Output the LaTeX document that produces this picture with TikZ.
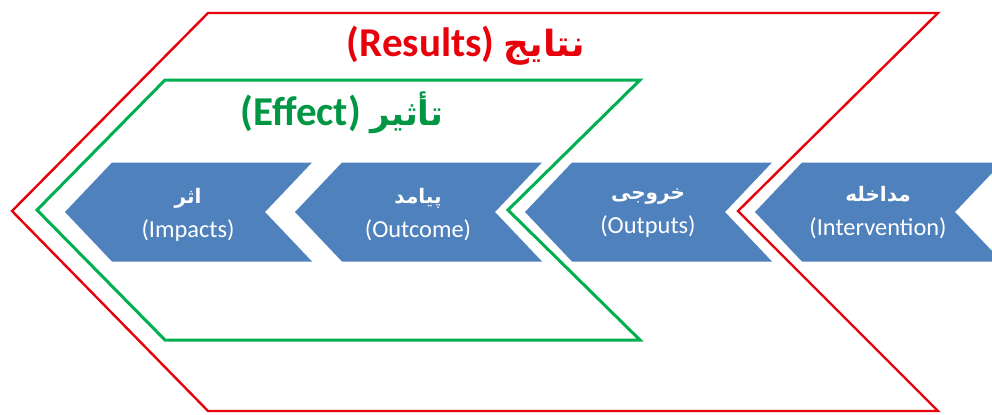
\documentclass[tikz,border=0pt]{standalone}
\usepackage{fontspec}
\setmainfont{Carlito}
\newfontfamily\fa[Script=Arabic]{DejaVu Sans}
\TeXXeTstate=1
\usetikzlibrary{positioning}
\definecolor{chevblue}{HTML}{4F81BD}
\definecolor{resred}{HTML}{E8000B}
\definecolor{effgreen}{HTML}{00B050}

\begin{document}
\begin{tikzpicture}[x=0.5pt,y=-0.5pt,
  chev/.style={fill=chevblue},
  frame/.style={line width=#1,line join=miter,preaction={draw=white,line width=3.6pt}},
  lbl/.style={text=white,align=center,font=\fontsize{12.2}{17}\selectfont},
  ttl/.style={font=\fontsize{20.5}{24}\selectfont\bfseries}]
\useasboundingbox (0,0) rectangle (992,414);
\clip (0,0) rectangle (992,414);
\fill[white] (0,0) rectangle (992,414);
% chevrons
\fill[chev] (65,212) -- ++(47,-49.5) -- ++(200,0) -- ++(-47,49.5) -- ++(47,49.5) -- ++(-200,0) -- cycle;
\fill[chev] (295,212) -- ++(47,-49.5) -- ++(200,0) -- ++(-47,49.5) -- ++(47,49.5) -- ++(-200,0) -- cycle;
\fill[chev] (525,212) -- ++(47,-49.5) -- ++(200,0) -- ++(-47,49.5) -- ++(47,49.5) -- ++(-200,0) -- cycle;
\fill[chev] (755,212) -- ++(47,-49.5) -- ++(200,0) -- ++(-47,49.5) -- ++(47,49.5) -- ++(-200,0) -- cycle;
\node[lbl] (impacts) at (188,215) {{\fa\bfseries\fontsize{10}{17}\selectfont\beginR اثر\endR}\\(Impacts)};
\node[lbl] (outcome) at (418,215) {{\fa\bfseries\fontsize{10}{17}\selectfont\beginR پیامد\endR}\\(Outcome)};
\node[lbl] (outputs) at (648,213) {{\fa\bfseries\fontsize{10}{17}\selectfont\beginR خروجی\endR}\\(Outputs)};
\node[lbl] (interv) at (878,213) {{\fa\bfseries\fontsize{10}{17}\selectfont\beginR مداخله\endR}\\(Intervention)};
% frames
\draw[frame=1.5pt,effgreen] (165,80) -- (640,80) -- (508,210) -- (640,340) -- (165,340) -- (37,210) -- cycle;
\draw[frame=1.2pt,resred] (208,13) -- (938,13) -- (738,211) -- (938,411) -- (208,411) -- (12,211) -- cycle;
\node[ttl,text=resred] (results) at (466,46) {(Results) {\fa\fontsize{18}{24}\selectfont\beginR نتایج\endR}};
\node[ttl,text=effgreen!85!black] (effect) at (342,113) {(Effect)\ {\fa\fontsize{17}{24}\selectfont\beginR تأثیر\endR}};
\end{tikzpicture}
\end{document}
